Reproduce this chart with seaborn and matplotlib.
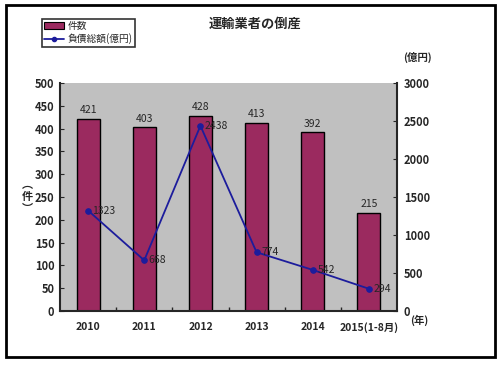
import matplotlib
matplotlib.use("Agg")
import matplotlib.pyplot as plt
import seaborn as sns
import pandas as pd
from matplotlib.patches import Rectangle, Patch
from matplotlib.lines import Line2D

years = ["2010", "2011", "2012", "2013", "2014", "2015(1-8月)"]
counts = [421, 403, 428, 413, 392, 215]
debt = [1323, 668, 2438, 774, 542, 294]

sns.set_style("white")
plt.rcParams['font.family'] = ['Noto Sans CJK JP', 'DejaVu Sans']

df = pd.DataFrame({"year": years, "count": counts, "debt": debt})

fig = plt.figure(figsize=(5.0, 3.66), dpi=100)
ax = fig.add_axes([0.12, 0.150, 0.674, 0.623])
ax.set_facecolor("#c0c0c0")

bar_color = "#9b2a5f"
sns.barplot(data=df, x="year", y="count", ax=ax, color=bar_color, width=0.41,
            saturation=1, edgecolor="black", linewidth=1.0)
ax.set_ylim(0, 500)
ax.set_yticks(range(0, 501, 50))
ax.set_xlabel("")
ax.set_ylabel("")
for i, v in enumerate(counts):
    ax.text(i, v + 8, str(v), ha="center", va="bottom", fontsize=7.5)

ax2 = ax.twinx()
sns.lineplot(x=list(range(len(years))), y=debt, ax=ax2, color="#1c1c9c",
             marker="o", markersize=4, linewidth=1.3, markeredgecolor="#1c1c9c")
ax2.set_ylim(0, 3000)
ax2.set_yticks(range(0, 3001, 500))
ax2.set_ylabel("")
for i, v in enumerate(debt):
    ax2.text(i + 0.08, v, str(v), ha="left", va="center", fontsize=7.5)
ax.set_xlim(-0.5, len(years) - 0.5)
ax.set_xticks([i + 0.5 for i in range(len(years) - 1)], minor=True)

for a in (ax, ax2):
    for s in a.spines.values():
        s.set_visible(False)
ax.spines["left"].set_visible(True)
ax.spines["bottom"].set_visible(True)
ax2.spines["right"].set_visible(True)
ax.spines["left"].set_linewidth(1.5)
ax.spines["bottom"].set_linewidth(1.5)
ax2.spines["right"].set_linewidth(1.5)

ax.tick_params(axis="y", labelsize=8, length=3, direction="in", pad=4, left=True)
ax.tick_params(axis="x", which="major", labelsize=7.5, length=0, pad=8)
ax.tick_params(axis="x", which="minor", length=3, direction="in", bottom=True, width=1)
ax2.tick_params(axis="y", labelsize=8, length=3, direction="in", pad=5, right=True)
for lab in ax.get_yticklabels() + ax2.get_yticklabels() + ax.get_xticklabels():
    lab.set_fontweight("bold")

# labels
fig.text(0.51, 0.935, "運輸業者の倒産", ha="center", va="center", fontsize=9.5, fontweight="bold")
fig.text(0.834, 0.844, "(億円)", ha="center", va="center", fontsize=7.5, fontweight="bold")
fig.text(0.82, 0.125, "(年)", ha="left", va="center", fontsize=7.5, fontweight="bold")
fig.text(0.055, 0.462, "︵\n件\n︶", ha="center", va="center", fontsize=8,
         fontweight="bold", linespacing=0.9)

handles = [Patch(facecolor=bar_color, edgecolor="black", linewidth=0.8),
           Line2D([0], [0], color="#1c1c9c", marker="o", markersize=3, linewidth=1.3)]
leg = fig.legend(handles, ["件数", "負債総額(億円)"], loc="upper left",
                 bbox_to_anchor=(0.074, 0.962), fontsize=7, frameon=True,
                 fancybox=False, edgecolor="black", handlelength=2.0,
                 borderpad=0.25, labelspacing=0.2, handletextpad=0.4)
leg.get_frame().set_linewidth(1.2)

fig.patches.append(Rectangle((0.012, 0.025), 0.978, 0.961, transform=fig.transFigure,
                             fill=False, edgecolor="black", linewidth=2))

fig.savefig("out.png", dpi=100)
